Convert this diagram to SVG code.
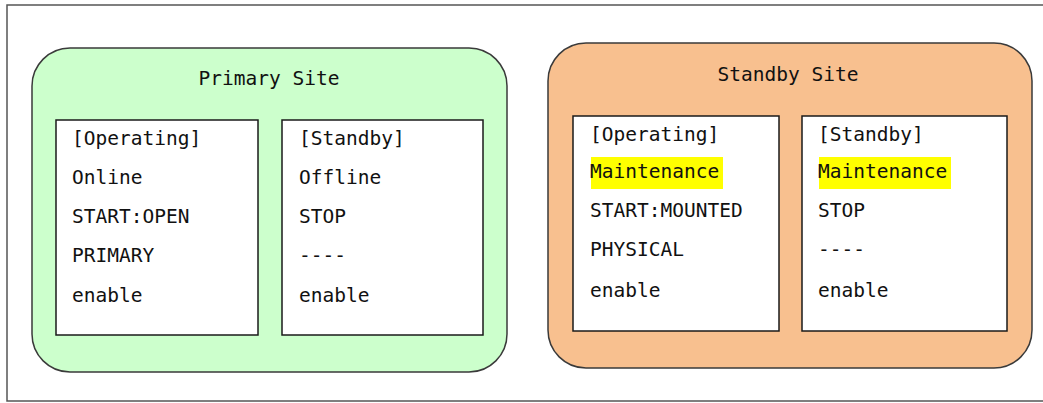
<svg xmlns="http://www.w3.org/2000/svg" width="1043" height="403" viewBox="0 0 1043 403">
<style>
.frame{fill:#ffffff;stroke:#555555;stroke-width:1.5}
.site{stroke:#3a3a3a;stroke-width:1.5}
.box{fill:#ffffff;stroke:#1a1a1a;stroke-width:1.5}
text{font-family:"DejaVu Sans Mono","Liberation Mono",monospace;font-size:19.5px;fill:#111111}
.title{text-anchor:middle}
.hl{fill:#ffff00}
</style>
<rect width="1043" height="403" fill="#ffffff"/>
<rect class="frame" x="7" y="5" width="1060" height="396"/>
<g id="primary-site">
<rect class="site" x="32" y="48" width="475" height="324" rx="38" ry="38" fill="#ccffcc"/>
<text class="title" x="269" y="85">Primary Site</text>
</g>
<g id="primary-operating">
<rect class="box" x="56" y="120" width="202" height="215"/>
<text x="72" y="145">[Operating]</text>
<text x="72" y="184">Online</text>
<text x="72" y="223">START:OPEN</text>
<text x="72" y="262">PRIMARY</text>
<text x="72" y="302">enable</text>
</g>
<g id="primary-standby">
<rect class="box" x="282" y="120" width="201" height="215"/>
<text x="299" y="145">[Standby]</text>
<text x="299" y="184">Offline</text>
<text x="299" y="223">STOP</text>
<text x="299" y="262">----</text>
<text x="299" y="302">enable</text>
</g>
<g id="standby-site">
<rect class="site" x="548" y="43" width="484" height="325" rx="38" ry="38" fill="#f8c08f"/>
<text class="title" x="788" y="81">Standby Site</text>
</g>
<g id="standby-operating">
<rect class="box" x="573" y="116" width="206" height="215"/>
<text x="590" y="141">[Operating]</text>
<rect class="hl" x="591" y="157" width="132" height="32"/>
<text x="590" y="178">Maintenance</text>
<text x="590" y="217">START:MOUNTED</text>
<text x="590" y="256">PHYSICAL</text>
<text x="590" y="297">enable</text>
</g>
<g id="standby-standby">
<rect class="box" x="802" y="116" width="205" height="215"/>
<text x="818" y="141">[Standby]</text>
<rect class="hl" x="819" y="157" width="132" height="32"/>
<text x="818" y="178">Maintenance</text>
<text x="818" y="217">STOP</text>
<text x="818" y="256">----</text>
<text x="818" y="297">enable</text>
</g>
<g id="connectors"></g>
</svg>
